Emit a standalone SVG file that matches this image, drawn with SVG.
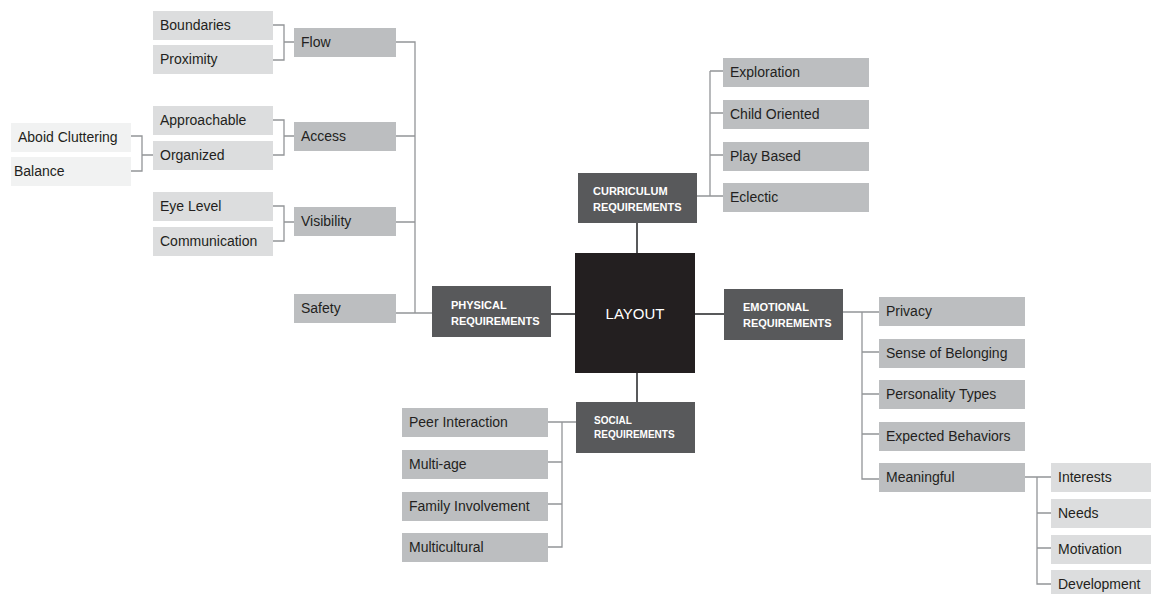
<svg xmlns="http://www.w3.org/2000/svg" width="1151" height="594" viewBox="0 0 1151 594">
<style>
.l2{fill:#bcbec0}
.l3{fill:#dcddde}
.l4{fill:#f1f2f2}
.req{fill:#58595b}
.t{font-family:"Liberation Sans",Arial,sans-serif;font-size:14px;fill:#231f20}
.rt{font-family:"Liberation Sans",Arial,sans-serif;font-size:11px;font-weight:bold;fill:#ffffff}
.rs{font-size:10px}
.c{fill:none;stroke:#939598;stroke-width:1.3}
.cd{fill:none;stroke:#58595b;stroke-width:2}
</style>
<rect width="1151" height="594" fill="#ffffff"/>
<g id="connectors">
<path class="c" d="M273,25H284V60H273M284,42H294"/>
<path class="c" d="M273,120H284V155H273M284,136H294"/>
<path class="c" d="M131,136H142V171H131M142,155H153"/>
<path class="c" d="M273,206H284V241H273M284,222H294"/>
<path class="c" d="M396,42H415V313M396,136H415M396,222H415M396,313H432"/>
<path class="c" d="M697,196H723M710,71V196M710,71H723M710,113H723M710,155H723"/>
<path class="c" d="M843,312H879M862,312V479H879M862,352H879M862,394H879M862,434H879"/>
<path class="c" d="M1025,477H1051M1037,477V584H1051M1037,513H1051M1037,548H1051"/>
<path class="c" d="M548,422H576M562,422V547H548M548,462H562M548,504H562"/>
<path class="cd" d="M637,223V253M551,314H575M695,314H724M637,373V402"/>
</g>
<g id="n-boundaries"><rect class="l3" x="153" y="11" width="120" height="29"/><text class="t" x="160" y="30">Boundaries</text></g>
<g id="n-proximity"><rect class="l3" x="153" y="45" width="120" height="29"/><text class="t" x="160" y="64">Proximity</text></g>
<g id="n-flow"><rect class="l2" x="294" y="28" width="102" height="29"/><text class="t" x="301" y="47">Flow</text></g>
<g id="n-approachable"><rect class="l3" x="153" y="106" width="120" height="29"/><text class="t" x="160" y="125">Approachable</text></g>
<g id="n-organized"><rect class="l3" x="153" y="141" width="120" height="29"/><text class="t" x="160" y="160">Organized</text></g>
<g id="n-access"><rect class="l2" x="294" y="122" width="102" height="29"/><text class="t" x="301" y="141">Access</text></g>
<g id="n-aboid"><rect class="l4" x="11" y="123" width="120" height="29"/><text class="t" x="18" y="142">Aboid Cluttering</text></g>
<g id="n-balance"><rect class="l4" x="11" y="157" width="120" height="29"/><text class="t" x="14" y="176">Balance</text></g>
<g id="n-eyelevel"><rect class="l3" x="153" y="192" width="120" height="29"/><text class="t" x="160" y="211">Eye Level</text></g>
<g id="n-communication"><rect class="l3" x="153" y="227" width="120" height="29"/><text class="t" x="160" y="246">Communication</text></g>
<g id="n-visibility"><rect class="l2" x="294" y="207" width="102" height="29"/><text class="t" x="301" y="226">Visibility</text></g>
<g id="n-safety"><rect class="l2" x="294" y="294" width="102" height="29"/><text class="t" x="301" y="313">Safety</text></g>
<g id="n-physical"><rect class="req" x="432" y="286" width="119" height="51"/><text class="rt" x="451" y="309">PHYSICAL</text><text class="rt" x="451" y="325">REQUIREMENTS</text></g>
<g id="n-layout"><rect fill="#231f20" x="575" y="253" width="120" height="120"/><text x="635" y="319" text-anchor="middle" font-family="Liberation Sans, Arial, sans-serif" font-size="15" fill="#ffffff">LAYOUT</text></g>
<g id="n-curriculum"><rect class="req" x="578" y="173" width="119" height="50"/><text class="rt" x="593" y="195">CURRICULUM</text><text class="rt" x="593" y="211">REQUIREMENTS</text></g>
<g id="n-emotional"><rect class="req" x="724" y="289" width="119" height="51"/><text class="rt" x="743" y="311">EMOTIONAL</text><text class="rt" x="743" y="327">REQUIREMENTS</text></g>
<g id="n-social"><rect class="req" x="576" y="402" width="119" height="51"/><text class="rt rs" x="594" y="424">SOCIAL</text><text class="rt rs" x="594" y="438">REQUIREMENTS</text></g>
<g id="n-exploration"><rect class="l2" x="723" y="58" width="146" height="29"/><text class="t" x="730" y="77">Exploration</text></g>
<g id="n-childoriented"><rect class="l2" x="723" y="100" width="146" height="29"/><text class="t" x="730" y="119">Child Oriented</text></g>
<g id="n-playbased"><rect class="l2" x="723" y="142" width="146" height="29"/><text class="t" x="730" y="161">Play Based</text></g>
<g id="n-eclectic"><rect class="l2" x="723" y="183" width="146" height="29"/><text class="t" x="730" y="202">Eclectic</text></g>
<g id="n-privacy"><rect class="l2" x="879" y="297" width="146" height="29"/><text class="t" x="886" y="316">Privacy</text></g>
<g id="n-belonging"><rect class="l2" x="879" y="339" width="146" height="29"/><text class="t" x="886" y="358">Sense of Belonging</text></g>
<g id="n-personality"><rect class="l2" x="879" y="380" width="146" height="29"/><text class="t" x="886" y="399">Personality Types</text></g>
<g id="n-expected"><rect class="l2" x="879" y="422" width="146" height="29"/><text class="t" x="886" y="441">Expected Behaviors</text></g>
<g id="n-meaningful"><rect class="l2" x="879" y="463" width="146" height="29"/><text class="t" x="886" y="482">Meaningful</text></g>
<g id="n-interests"><rect class="l3" x="1051" y="463" width="100" height="29"/><text class="t" x="1058" y="482">Interests</text></g>
<g id="n-needs"><rect class="l3" x="1051" y="499" width="100" height="29"/><text class="t" x="1058" y="518">Needs</text></g>
<g id="n-motivation"><rect class="l3" x="1051" y="535" width="100" height="29"/><text class="t" x="1058" y="554">Motivation</text></g>
<g id="n-development"><rect class="l3" x="1051" y="570" width="100" height="29"/><text class="t" x="1058" y="589">Development</text></g>
<g id="n-peer"><rect class="l2" x="402" y="408" width="146" height="29"/><text class="t" x="409" y="427">Peer Interaction</text></g>
<g id="n-multiage"><rect class="l2" x="402" y="450" width="146" height="29"/><text class="t" x="409" y="469">Multi-age</text></g>
<g id="n-family"><rect class="l2" x="402" y="492" width="146" height="29"/><text class="t" x="409" y="511">Family Involvement</text></g>
<g id="n-multicultural"><rect class="l2" x="402" y="533" width="146" height="29"/><text class="t" x="409" y="552">Multicultural</text></g>
</svg>
